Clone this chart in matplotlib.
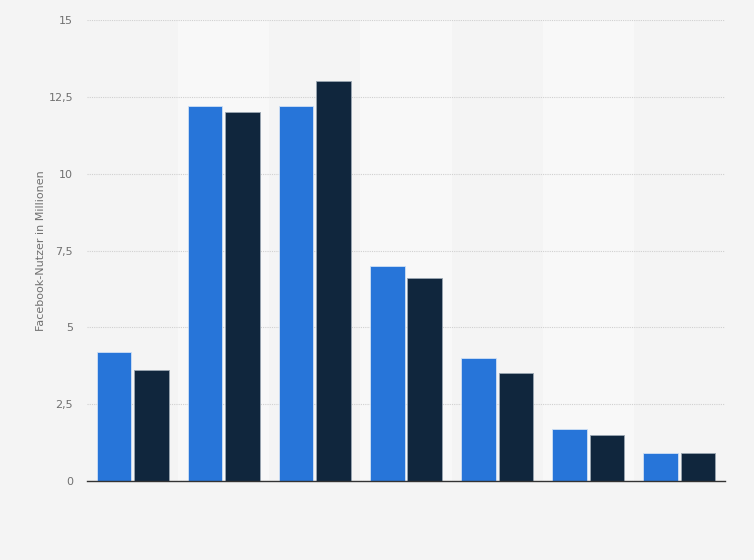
import numpy as np
import matplotlib
matplotlib.use('Agg')
import matplotlib.pyplot as plt

# Facebook-Nutzer nach Altersgruppe, zwei Zeitpunkte
kategorien = ['13-17', '18-24', '25-34', '35-44', '45-54', '55-64', '65+']
serie1 = [4.2, 12.2, 12.2, 7.0, 4.0, 1.7, 0.9]
serie2 = [3.6, 12.0, 13.0, 6.6, 3.5, 1.5, 0.9]
yticks = [0, 2.5, 5, 7.5, 10, 12.5, 15]
ytick_labels = ['0', '2,5', '5', '7,5', '10', '12,5', '15']

fig = plt.figure(figsize=(7.54, 5.6), dpi=100)
fig.patch.set_facecolor('#f4f4f4')
ax = fig.add_axes([87/754, 1 - 481/560, (725 - 87)/754, (481 - 20)/560])
ax.set_facecolor('#f4f4f4')

x = np.arange(len(kategorien))

# hellere Streifen hinter jeder zweiten Gruppe
for i in x:
    if i % 2 == 1:
        ax.axvspan(i - 0.5, i + 0.5, color='#f8f8f8', zorder=0, lw=0)

ax.bar(x - 0.205, serie1, width=0.38, color='#2775d9', edgecolor='#cfe0f5', linewidth=0.6, zorder=3)
ax.bar(x + 0.205, serie2, width=0.38, color='#10263d', edgecolor='#9aa6b2', linewidth=0.6, zorder=3)

ax.set_xlim(-0.5, len(kategorien) - 0.5)
ax.set_ylim(0, 15)
ax.set_yticks(yticks)
ax.set_yticklabels(ytick_labels)
ax.set_xticks([])
ax.yaxis.grid(True, color='#d0d0d0', linestyle=(0, (1, 1)), linewidth=0.8, zorder=1)
ax.tick_params(axis='y', length=0, pad=10, labelcolor='#707070', labelsize=8)
for s in ['top', 'right', 'left']:
    ax.spines[s].set_visible(False)
ax.spines['bottom'].set_color('#333333')
ax.spines['bottom'].set_linewidth(1)
ax.spines['bottom'].set_zorder(4)

ax.set_ylabel('Facebook-Nutzer in Millionen', color='#707070', fontsize=8)
ax.yaxis.set_label_coords((46 - 87) / 638, 0.5)

plt.savefig('out.png', facecolor=fig.get_facecolor())
plt.close()
